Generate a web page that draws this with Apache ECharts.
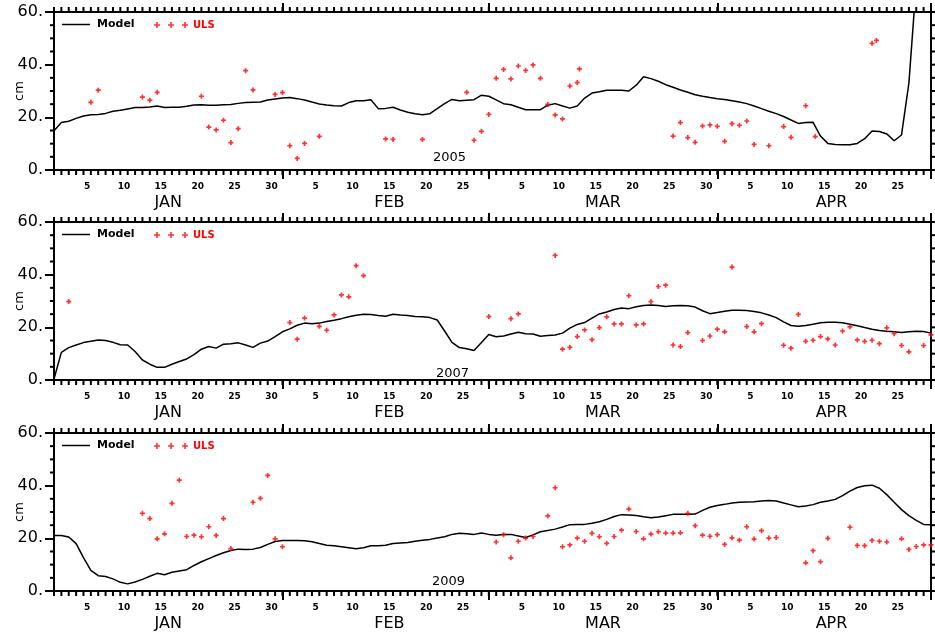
<!DOCTYPE html>
<html>
<head>
<meta charset="utf-8">
<script src="https://cdn.jsdelivr.net/npm/echarts@6/dist/echarts.min.js"></script>
<style>
  html, body { margin: 0; padding: 0; background: #fff; }
  #chart { width: 935px; height: 638px; }
</style>
</head>
<body>
<div id="chart"></div>
<script>
// Time axis: days since Jan 1 00h, running to Apr 30 00h
const monthNames = ['JAN', 'FEB', 'MAR', 'APR'];
const monthLengths = [31, 28, 31, 30];
const axisDays = 119;
const yMax = 60;
const yMinorStep = 5;

const years = ['2005', '2007', '2009'];

// Modelled snow depth (cm), one value per day starting Jan 1 00h
const model2005 = [
  14.9, 18.0, 18.5, 19.6, 20.5, 21.0, 21.1, 21.5, 22.3, 22.7,
  23.2, 23.7, 23.7, 23.9, 24.3, 23.7, 23.8, 23.8, 24.2, 24.7,
  24.8, 24.6, 24.6, 24.8, 24.9, 25.3, 25.6, 25.7, 25.8, 26.6,
  27.0, 27.3, 27.5, 27.1, 26.6, 25.8, 25.1, 24.7, 24.4, 24.3,
  25.6, 26.3, 26.3, 26.7, 23.3, 23.4, 23.8, 22.8, 21.9, 21.4,
  21.0, 21.4, 23.3, 25.2, 26.8, 26.3, 26.5, 26.7, 28.4, 28.0,
  26.6, 25.2, 24.8, 23.8, 22.9, 22.9, 22.9, 24.6, 25.2, 24.3,
  23.5, 24.3, 27.3, 29.2, 29.7, 30.3, 30.3, 30.3, 30.0, 32.2,
  35.4, 34.7, 33.7, 32.4, 31.4, 30.4, 29.5, 28.6, 28.0, 27.5,
  27.1, 26.8, 26.3, 25.8, 25.2, 24.3, 23.3, 22.3, 21.4, 20.3,
  19.0, 17.7, 18.0, 18.1, 12.9, 10.1, 9.7, 9.6, 9.6, 10.1,
  11.9, 14.8, 14.6, 13.7, 11.1, 13.3, 33.0, 71.0
];
const model2007 = [
  0.4, 10.5, 12.3, 13.3, 14.2, 14.7, 15.2, 15.0, 14.3, 13.4,
  13.3, 10.8, 7.6, 6.0, 4.8, 4.8, 6.0, 7.0, 8.0, 9.6,
  11.7, 12.7, 12.1, 13.6, 13.8, 14.1, 13.3, 12.4, 14.0, 14.8,
  16.5, 18.3, 19.4, 20.8, 21.6, 21.4, 21.6, 22.2, 22.7, 23.3,
  24.0, 24.6, 25.0, 24.9, 24.5, 24.2, 25.0, 24.7, 24.5, 24.1,
  24.0, 23.7, 22.8, 18.6, 14.3, 12.3, 11.9, 11.2, 14.2, 17.3,
  16.4, 16.7, 17.5, 18.1, 17.6, 17.5, 16.6, 16.9, 17.1, 17.8,
  19.7, 21.1, 21.8, 23.5, 25.1, 25.8, 26.8, 27.3, 27.1, 27.8,
  28.3, 28.5, 28.3, 27.9, 28.2, 28.3, 28.2, 27.7, 26.3, 25.2,
  25.6, 26.1, 26.5, 26.5, 26.4, 26.0, 25.5, 24.7, 23.7, 22.1,
  20.7, 20.4, 20.7, 21.2, 21.7, 21.9, 21.9, 21.7, 21.2, 20.6,
  19.9, 19.3, 18.8, 18.5, 18.3, 18.0, 18.3, 18.5, 18.4, 17.8
];
const model2009 = [
  21.1, 21.1, 20.5, 18.0, 12.7, 7.8, 5.8, 5.5, 4.6, 3.3,
  2.7, 3.4, 4.4, 5.6, 6.7, 6.2, 7.1, 7.6, 8.1, 9.7,
  11.1, 12.3, 13.5, 14.5, 15.4, 15.9, 15.8, 15.9, 16.5, 17.7,
  18.8, 19.2, 19.2, 19.2, 19.1, 18.7, 18.0, 17.4, 17.2, 16.8,
  16.4, 16.0, 16.4, 17.2, 17.2, 17.4, 18.0, 18.2, 18.4, 18.9,
  19.3, 19.6, 20.1, 20.6, 21.5, 21.9, 21.7, 21.5, 22.0, 21.5,
  21.2, 21.5, 21.5, 20.9, 20.3, 21.3, 22.5, 23.0, 23.5, 24.3,
  25.2, 25.3, 25.3, 25.7, 26.3, 27.2, 28.3, 29.0, 28.9, 28.7,
  28.2, 27.8, 28.1, 28.6, 29.1, 29.1, 29.1, 29.2, 30.6, 31.8,
  32.5, 32.9, 33.4, 33.7, 33.8, 33.9, 34.2, 34.4, 34.2, 33.4,
  32.7, 32.0, 32.3, 32.8, 33.7, 34.2, 34.8, 36.2, 37.9, 39.3,
  40.0, 40.2, 39.0, 36.6, 33.7, 30.9, 28.6, 26.8, 25.3, 25.2
];

// ULS observations: sample times (days since Jan 1 00h) and depths (cm)
const ulsDay2005 = [5, 6, 12, 13, 14, 20, 21, 22, 23, 24, 25, 26, 27, 30, 31, 32, 33, 34, 36,
  45, 46, 50, 56, 57, 58, 59, 60, 61, 62, 63, 64, 65, 66, 67, 68, 69, 70, 71, 71.3,
  84, 85, 86, 87, 88, 89, 90, 91, 92, 93, 94, 95, 97, 99, 100, 102, 103.3, 111, 111.6];
const uls2005 = [25.7, 30.3, 27.7, 26.5, 29.5, 28.0, 16.3, 15.2, 18.9, 10.4, 15.7, 37.7, 30.4, 28.7, 29.4, 9.2, 4.4, 10.1, 12.8,
  11.8, 11.6, 11.6, 29.5, 11.3, 14.7, 21.1, 34.8, 38.2, 34.6, 39.5, 37.8, 39.9, 34.8, 24.9, 20.9, 19.4, 31.9, 33.2, 38.4,
  12.9, 18.0, 12.3, 10.5, 16.7, 17.1, 16.6, 10.9, 17.6, 17.0, 18.6, 9.7, 9.2, 16.5, 12.4, 24.4, 12.7, 48.1, 49.2];

const ulsDay2007 = [2, 32, 33, 34, 36, 37, 38, 39, 40, 41, 42, 59, 62, 63,
  68, 69, 70, 71, 72, 73, 74, 75, 76, 77, 78, 79, 80, 81, 82, 83, 84, 85, 86,
  88, 89, 90, 91, 92, 94, 95, 96,
  99, 100, 101, 102, 103, 104, 105, 106, 107, 108, 109, 110, 111, 112, 113, 114, 115, 116, 118, 119];
const uls2007 = [29.8, 21.8, 15.5, 23.5, 20.4, 18.9, 24.7, 32.3, 31.6, 43.4, 39.6, 24.1, 23.3, 25.1,
  47.3, 11.7, 12.4, 16.5, 19.0, 15.3, 19.9, 24.0, 21.3, 21.3, 32.0, 20.9, 21.3, 29.8, 35.5, 36.0, 13.3, 12.7, 18.0,
  15.0, 16.7, 19.3, 18.3, 42.9, 20.3, 18.3, 21.4,
  13.2, 12.1, 24.9, 14.7, 15.1, 16.5, 15.6, 13.3, 18.6, 20.2, 15.2, 14.7, 15.1, 13.8, 19.8, 17.6, 13.1, 10.7, 13.1, 17.1];

const ulsDay2009 = [12, 13, 14, 15, 16, 17, 18, 19, 20, 21, 22, 23, 24, 27, 28, 29, 30, 31,
  60, 61, 62, 63, 64, 65, 67, 68, 69, 70, 71, 72, 73, 74, 75, 76, 77, 78, 79, 80, 81, 82,
  83, 84, 85, 86, 87, 88, 89, 90, 91, 92, 93, 94, 95, 96, 97, 98,
  102, 103, 104, 105, 108, 109, 110, 111, 112, 113, 115, 116, 117, 118, 119];
const uls2009 = [29.5, 27.5, 19.8, 21.7, 33.3, 42.1, 20.7, 21.2, 20.6, 24.4, 21.1, 27.5, 16.1, 33.7, 35.2, 43.9, 19.8, 16.8,
  18.6, 21.4, 12.6, 18.9, 20.1, 20.7, 28.5, 39.2, 16.8, 17.5, 20.1, 18.9, 21.9, 20.6, 18.1, 20.7, 23.1, 31.1, 22.6, 19.8, 21.6, 22.5,
  22.0, 22.0, 22.1, 29.5, 24.8, 21.2, 20.8, 21.4, 17.7, 20.2, 19.3, 24.4, 19.7, 22.9, 20.1, 20.3,
  10.7, 15.3, 11.1, 20.0, 24.2, 17.3, 17.2, 19.2, 18.9, 18.6, 19.8, 15.8, 16.9, 17.5, 17.5];

const modelSeries = [model2005, model2007, model2009];
const ulsDays = [ulsDay2005, ulsDay2007, ulsDay2009];
const ulsValues = [uls2005, uls2007, uls2009];

// ---- layout ----
const FONT = 'DejaVu Sans';
const gridLeft = 54, gridRight = 4, gridHeight = 158, plotWidth = 877;
const gridTops = [12, 222, 433];
const tickLen = 5, sideTickLen = 4;
const yearLabelPos = [[433, 151], [436, 367], [432, 575]];

// one category per calendar day (Jan 1 .. Apr 29)
const monthStarts = [];
monthLengths.reduce((acc, len) => { monthStarts.push(acc); return acc + len; }, 0);
const dayCats = [];
const dayMonth = [];
for (let t = 0; t < axisDays; t++) {
  let m = 0;
  while (m + 1 < monthStarts.length && t >= monthStarts[m + 1]) m++;
  dayCats.push(String(t - monthStarts[m] + 1));
  dayMonth.push(m);
}
const monthTickIdx = monthStarts.slice(1).filter(t => t < axisDays);
const monthLabelIdx = monthStarts.map((s, m) => s + Math.floor(monthLengths[m] / 2));

// fine tick positions: day boundaries and every 5 cm
const dayBounds = [];
for (let t = 0; t <= axisDays; t++) dayBounds.push(t);
const cmSteps = [];
for (let v = 0; v <= yMax; v += yMinorStep) cmSteps.push(v);

const black = '#000';
const plusSymbol = 'path://M0,3.3H10V6.7H0Z M3.3,0H6.7V10H3.3Z';
const plusLegendIcon = 'path://M0,2.2H6V3.8H0Z M2.2,0H3.8V6H2.2Z M14,2.2H20V3.8H14Z M16.2,0H17.8V6H16.2Z M28,2.2H34V3.8H28Z M30.2,0H31.8V6H30.2Z';

const grid = [], xAxis = [], yAxis = [], series = [], legend = [], title = [];

function addGrid(box) {
  grid.push(Object.assign({ containLabel: false, outerBoundsMode: 'none' }, box));
  return grid.length - 1;
}
const tickStyle = { color: black, width: 2 };
const lineStyle = { color: black, width: 2 };

// a thin strip next to the frame holding one row (or column) of tick marks
function tickStrip(box, horizontal, values, size) {
  const g = addGrid(box);
  const xi = xAxis.length, yi = yAxis.length;
  if (horizontal) {
    xAxis.push({ gridIndex: g, type: 'value', min: 0, max: axisDays, show: false });
    yAxis.push({ gridIndex: g, type: 'value', min: 0, max: 1, show: false });
  } else {
    xAxis.push({ gridIndex: g, type: 'value', min: 0, max: 1, show: false });
    yAxis.push({ gridIndex: g, type: 'value', min: 0, max: yMax, show: false });
  }
  series.push({
    type: 'scatter', name: 'tick', xAxisIndex: xi, yAxisIndex: yi,
    data: values.map(v => (horizontal ? [v, 0.5] : [0.5, v])),
    symbol: 'rect', symbolSize: size, itemStyle: { color: black, opacity: 1 },
    silent: true, animation: false, z: 4
  });
}

gridTops.forEach((top, i) => {
  const cat = { type: 'category', data: dayCats, boundaryGap: true, splitLine: { show: false } };
  const frameBox = { left: gridLeft, right: gridRight, top: top, height: gridHeight };

  // frame: axis lines, day-of-month labels, y labels
  const gFrame = addGrid(frameBox);
  xAxis.push(Object.assign({}, cat, {
    gridIndex: gFrame, position: 'bottom',
    axisLine: { show: true, onZero: false, lineStyle },
    axisTick: { show: false },
    axisLabel: { show: true, interval: 0, formatter: v => (Number(v) % 5 === 0 ? v : ''),
      fontSize: 9, fontWeight: 'bold', fontFamily: FONT, color: black, margin: 12 }
  }));
  xAxis.push(Object.assign({}, cat, {
    gridIndex: gFrame, position: 'top',
    axisLine: { show: true, onZero: false, lineStyle },
    axisTick: { show: false },
    axisLabel: { show: false }
  }));
  yAxis.push({
    gridIndex: gFrame, type: 'value', position: 'left', min: 0, max: yMax, interval: 20,
    name: 'cm', nameLocation: 'middle', nameGap: 28, nameRotate: 90, nameMoveOverlap: false,
    nameTextStyle: { fontSize: 13, fontFamily: FONT, color: black },
    axisLine: { show: true, onZero: false, lineStyle },
    axisTick: { show: true, length: 9, lineStyle: tickStyle },
    axisLabel: { formatter: v => v + '.', fontSize: 16, fontFamily: FONT, color: black, margin: 11 },
    splitLine: { show: false }
  });
  yAxis.push({
    gridIndex: gFrame, type: 'value', position: 'right', min: 0, max: yMax, interval: 20,
    axisLine: { show: true, onZero: false, lineStyle },
    axisTick: { show: false },
    axisLabel: { show: false }, splitLine: { show: false }
  });

  // months: boundary ticks + month names
  const gMonth = addGrid(frameBox);
  xAxis.push(Object.assign({}, cat, {
    gridIndex: gMonth, position: 'bottom',
    axisLine: { show: false },
    axisTick: { show: true, interval: idx => monthTickIdx.includes(idx), length: 9, lineStyle: tickStyle },
    axisLabel: { show: true, interval: idx => monthLabelIdx.includes(idx),
      formatter: (v, idx) => monthNames[dayMonth[idx]],
      fontSize: 16, fontFamily: FONT, color: black, margin: 25 }
  }));
  xAxis.push(Object.assign({}, cat, {
    gridIndex: gMonth, position: 'top',
    axisLine: { show: false },
    axisTick: { show: true, interval: idx => monthTickIdx.includes(idx), length: 9, lineStyle: tickStyle },
    axisLabel: { show: false }
  }));
  yAxis.push({ gridIndex: gMonth, type: 'value', min: 0, max: yMax, show: false });

  // daily ticks below / above the frame, 5 cm ticks left / right
  tickStrip({ left: gridLeft, width: plotWidth, top: top + gridHeight, height: tickLen }, true, dayBounds, [2, tickLen]);
  tickStrip({ left: gridLeft, width: plotWidth, top: top - tickLen, height: tickLen }, true, dayBounds, [2, tickLen]);
  tickStrip({ left: gridLeft - sideTickLen, width: sideTickLen, top: top, height: gridHeight }, false,
    cmSteps.filter(v => v % 20 !== 0), [sideTickLen, 2]);
  tickStrip({ left: gridLeft + plotWidth, width: sideTickLen, top: top, height: gridHeight }, false,
    cmSteps, [sideTickLen, 2]);

  // data: continuous time scale
  const gData = addGrid(frameBox);
  const xData = xAxis.length;
  xAxis.push({ gridIndex: gData, type: 'value', min: 0, max: axisDays, show: false });
  const yData = yAxis.length;
  yAxis.push({ gridIndex: gData, type: 'value', min: 0, max: yMax, show: false });

  series.push({
    type: 'line', name: 'Model', xAxisIndex: xData, yAxisIndex: yData,
    data: modelSeries[i].map((v, t) => [t, v]),
    symbol: 'none', showSymbol: false, clip: true,
    lineStyle: { color: black, width: 1.5 }, itemStyle: { color: black },
    animation: false, z: 2
  });
  series.push({
    type: 'scatter', name: 'ULS', xAxisIndex: xData, yAxisIndex: yData,
    data: ulsDays[i].map((t, k) => [t, ulsValues[i][k]]),
    symbol: plusSymbol, symbolSize: 5,
    itemStyle: { color: '#ff0000' }, animation: false, z: 3
  });

  legend.push({
    left: 62, top: top + 7, padding: 0, itemWidth: 28, itemHeight: 1.5, selectedMode: false,
    data: [{ name: 'Model', icon: 'rect', itemStyle: { color: black } }],
    textStyle: { fontSize: 11, fontWeight: 'bold', fontFamily: FONT, color: black, padding: [0, 0, 0, 2] }
  });
  legend.push({
    left: 154, top: top + 8, padding: 0, itemWidth: 34, itemHeight: 6, selectedMode: false,
    data: [{ name: 'ULS', icon: plusLegendIcon, itemStyle: { color: '#ff0000' } }],
    textStyle: { fontSize: 10, fontWeight: 'bold', fontFamily: FONT, color: '#ff0000' }
  });

  title.push({
    text: years[i], left: yearLabelPos[i][0], top: yearLabelPos[i][1], padding: 0,
    textStyle: { fontSize: 13, fontWeight: 'normal', fontFamily: FONT, color: black }
  });
});

const chart = echarts.init(document.getElementById('chart'), null, { renderer: 'canvas' });
chart.setOption({
  backgroundColor: '#fff',
  animation: false,
  title, legend, grid, xAxis, yAxis, series
});
</script>
</body>
</html>
